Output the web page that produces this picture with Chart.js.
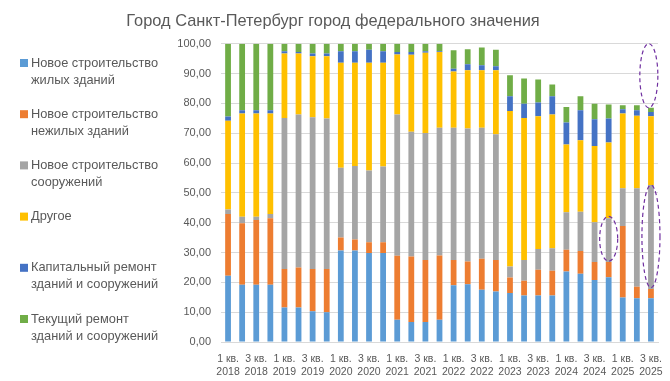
<!DOCTYPE html>
<html><head><meta charset="utf-8">
<script src="https://cdn.jsdelivr.net/npm/chart.js@4/dist/chart.umd.min.js"></script>
<style>html,body{margin:0;padding:0;background:#fff}</style>
</head><body>
<canvas id="c" width="670" height="381"></canvas>
<script>
const quarters = ["1 кв.","2 кв.","3 кв.","4 кв.","1 кв.","2 кв.","3 кв.","4 кв.","1 кв.","2 кв.","3 кв.","4 кв.","1 кв.","2 кв.","3 кв.","4 кв.","1 кв.","2 кв.","3 кв.","4 кв.","1 кв.","2 кв.","3 кв.","4 кв.","1 кв.","2 кв.","3 кв.","4 кв.","1 кв.","2 кв.","3 кв."];
const years = ["2018","2018","2018","2018","2019","2019","2019","2019","2020","2020","2020","2020","2021","2021","2021","2021","2022","2022","2022","2022","2023","2023","2023","2023","2024","2024","2024","2024","2025","2025","2025"];

const seriesNames = [
  ["Новое строительство","жилых зданий"],
  ["Новое строительство","нежилых зданий"],
  ["Новое строительство","сооружений"],
  ["Другое"],
  ["Капитальный ремонт","зданий и сооружений"],
  ["Текущий ремонт","зданий и сооружений"]
];

const newResidential    = [22.2,19.2,19.2,19.2,11.6,11.6,10.3,10.0,30.7,30.7,29.8,29.8, 7.5, 6.7, 6.7, 7.5,19.0,19.4,17.5,16.9,16.4,15.6,15.6,15.6,23.6,22.9,20.8,21.7,14.9,14.7,14.7];
const newNonResidential = [20.7,20.6,21.7,22.3,12.9,13.4,14.2,14.5, 4.3, 3.7, 3.6, 3.6,21.4,22.0,20.8,21.5, 8.5, 7.6,10.4,10.6, 5.2, 4.9, 8.6, 8.3, 7.3, 7.6, 6.0, 5.1,24.0, 3.8, 3.1];
const newStructures     = [ 1.5, 2.2, 1.1, 1.4,50.6,51.3,50.8,50.4,23.4,24.6,24.1,25.4,47.4,41.8,42.6,42.8,44.3,44.6,43.9,42.1, 3.7, 7.0, 7.0, 7.5,12.6,13.2,13.3,14.7,12.6,33.0,34.8];
const other             = [29.8,34.6,34.6,33.7,21.6,20.4,20.5,20.9,35.2,34.6,36.1,34.8,20.1,25.8,26.9,25.4,18.9,19.5,19.3,21.5,52.1,47.6,44.5,44.9,22.7,23.9,25.6,25.4,25.1,24.3,23.1];
const capitalRepair     = [ 1.4, 1.1, 1.1, 1.1, 0.8, 0.5, 0.9, 0.9, 3.9, 3.9, 4.4, 3.9, 0.8, 0.9, 0.5, 0.3, 0.9, 2.0, 1.7, 1.3, 5.0, 4.8, 4.6, 6.1, 7.4,10.1, 9.0, 8.0, 1.4, 1.9, 1.4];
const currentRepair     = [24.4,22.3,22.3,22.3, 2.5, 2.8, 3.3, 3.3, 2.5, 2.5, 2.0, 2.5, 2.8, 2.8, 2.5, 2.5, 6.2, 5.0, 5.9, 5.6, 7.0, 8.4, 7.7, 3.9, 5.2, 4.7, 5.2, 4.7, 1.4, 1.7, 1.4];

const yTicks = [0,10,20,30,40,50,60,70,80,90,100];

// highlight ellipses: category index, value range
const highlightCat  = [27, 30, 29.85];
const highlightFrom = [27.1, 18.2, 78.5];
const highlightTo   = [42.1, 52.6, 100];

const colors = ["#5B9BD5","#ED7D31","#A5A5A5","#FFC000","#4472C4","#70AD47"];
const seriesData = [newResidential,newNonResidential,newStructures,other,capitalRepair,currentRepair];
const labels = quarters.map((q,i)=>[q, years[i]]);
const FONT = "'Liberation Sans', Arial, sans-serif";
const TXT = "#595959";

const legendPlugin = {
  id: 'sideLegend',
  afterDraw(chart) {
    const ctx = chart.ctx;
    ctx.save();
    ctx.font = "12.8px " + FONT;
    ctx.textBaseline = 'middle';
    ctx.textAlign = 'left';
    chart.data.datasets.forEach((ds, i) => {
      const y0 = 63 + i * 51.2;
      ctx.fillStyle = ds.backgroundColor;
      ctx.fillRect(20, y0 - 4, 8, 8);
      ctx.fillStyle = TXT;
      seriesNames[i].forEach((line, j) => ctx.fillText(line, 31, y0 + j * 17));
    });
    ctx.restore();
  }
};

const ellipsePlugin = {
  id: 'ellipses',
  afterDatasetsDraw(chart) {
    const {ctx, scales: {x, y}} = chart;
    const step = x.getPixelForValue(1) - x.getPixelForValue(0);
    ctx.save();
    ctx.strokeStyle = "#7030A0";
    ctx.lineWidth = 1.2;
    ctx.setLineDash([4, 3]);
    highlightCat.forEach((c, i) => {
      const cx = x.getPixelForValue(0) + c * step;
      const yTop = y.getPixelForValue(highlightTo[i]);
      const yBot = y.getPixelForValue(highlightFrom[i]);
      ctx.beginPath();
      ctx.ellipse(cx, (yTop + yBot) / 2, step * 0.64, (yBot - yTop) / 2, 0, 0, Math.PI * 2);
      ctx.stroke();
    });
    ctx.restore();
  }
};

new Chart(document.getElementById('c'), {
  type: 'bar',
  data: {
    labels: labels,
    datasets: seriesData.map((d, i) => ({
      label: seriesNames[i].join(' '),
      data: d,
      backgroundColor: colors[i],
      borderWidth: 0,
      barPercentage: 0.41,
      categoryPercentage: 1.0
    }))
  },
  options: {
    responsive: false,
    animation: false,
    devicePixelRatio: 1,
    layout: { padding: { left: 8, right: 12, top: 0, bottom: 0 } },
    plugins: {
      legend: { display: false },
      tooltip: { enabled: false },
      title: {
        display: true,
        text: "Город Санкт-Петербург город федерального значения",
        color: TXT,
        font: { family: FONT, size: 16.4, weight: 'normal' },
        padding: { top: 12, bottom: 12 }
      }
    },
    scales: {
      x: {
        stacked: true,
        grid: { display: false },
        border: { display: true, color: "#d9d9d9" },
        ticks: {
          autoSkip: false,
          maxRotation: 0,
          minRotation: 0,
          color: TXT,
          font: { family: FONT, size: 10.5, lineHeight: 1.3 },
          padding: 2,
          callback: (v, i) => (i % 2 === 0 ? labels[i] : '')
        },
        afterFit: s => { s.height = 39; }
      },
      y: {
        stacked: true,
        min: 0,
        max: 100,
        afterBuildTicks: s => { s.ticks = yTicks.map(v => ({ value: v })); },
        grid: { color: "#d9d9d9", drawTicks: false },
        border: { display: false },
        ticks: {
          color: TXT,
          font: { family: FONT, size: 11 },
          padding: 10,
          callback: v => Number(v).toFixed(2).replace('.', ',')
        },
        afterFit: s => { s.width = 213; }
      }
    }
  },
  plugins: [legendPlugin, ellipsePlugin]
});
</script>
</body></html>
